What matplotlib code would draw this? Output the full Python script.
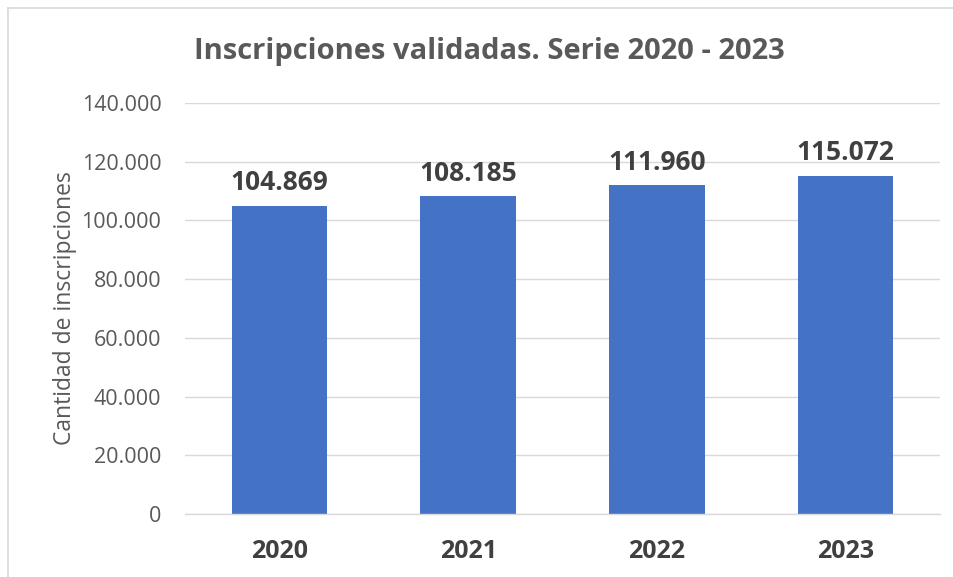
import matplotlib
matplotlib.use("Agg")
import matplotlib.pyplot as plt
from matplotlib.lines import Line2D
from matplotlib.ticker import FuncFormatter

years = ["2020", "2021", "2022", "2023"]
values = [104869, 108185, 111960, 115072]
yticks = [0, 20000, 40000, 60000, 80000, 100000, 120000, 140000]

def fmt(v):
    return f"{int(v):,}".replace(",", ".")

plt.rcParams['font.family'] = ['Open Sans', 'DejaVu Sans']

W, H = 954, 577
fig = plt.figure(figsize=(W/100, H/100), dpi=100)
ax = fig.add_axes([185/W, 1-514/H, (940-185)/W, (514-103)/H])

x = range(len(years))
ax.bar(x, values, width=0.505, color="#4472C4", zorder=3)
ax.set_xlim(-0.5, 3.5)
ax.set_ylim(0, 140000)
ax.set_yticks(yticks)
ax.yaxis.set_major_formatter(FuncFormatter(lambda v, p: fmt(v)))
ax.set_xticks(list(x))
ax.set_xticklabels(years, fontweight="bold", fontsize=18, color="#404040")
ax.tick_params(axis="y", length=0, pad=17, labelsize=15.5, labelcolor="#595959")
ax.tick_params(axis="x", length=0, pad=18)
ax.grid(axis="y", color="#D9D9D9", linewidth=1, zorder=0)
for s in ["left", "right", "top"]:
    ax.spines[s].set_visible(False)
ax.spines["bottom"].set_color("#D9D9D9")
ax.spines["bottom"].set_linewidth(1)
ax.spines["bottom"].set_zorder(4)

for xi, v in zip(x, values):
    ax.annotate(fmt(v), (xi, v), xytext=(0, 7), textcoords="offset points",
                ha="center", va="bottom", fontsize=19, fontweight="bold", color="#404040")

ax.set_ylabel("Cantidad de inscripciones", fontsize=16.5, color="#595959", labelpad=3)

fig.text(489/W, 1-51/H, "Inscripciones validadas. Serie 2020 - 2023", ha="center", va="center",
         fontsize=21, fontweight="bold", color="#595959")

# chart border (left and top visible)
fig.add_artist(Line2D([8.5/W, 8.5/W], [0, 1-7.5/H], color="#D9D9D9", linewidth=1.2))
fig.add_artist(Line2D([8.5/W, 1], [1-7.5/H, 1-7.5/H], color="#D9D9D9", linewidth=1.2))

fig.savefig("out.png", dpi=100)
